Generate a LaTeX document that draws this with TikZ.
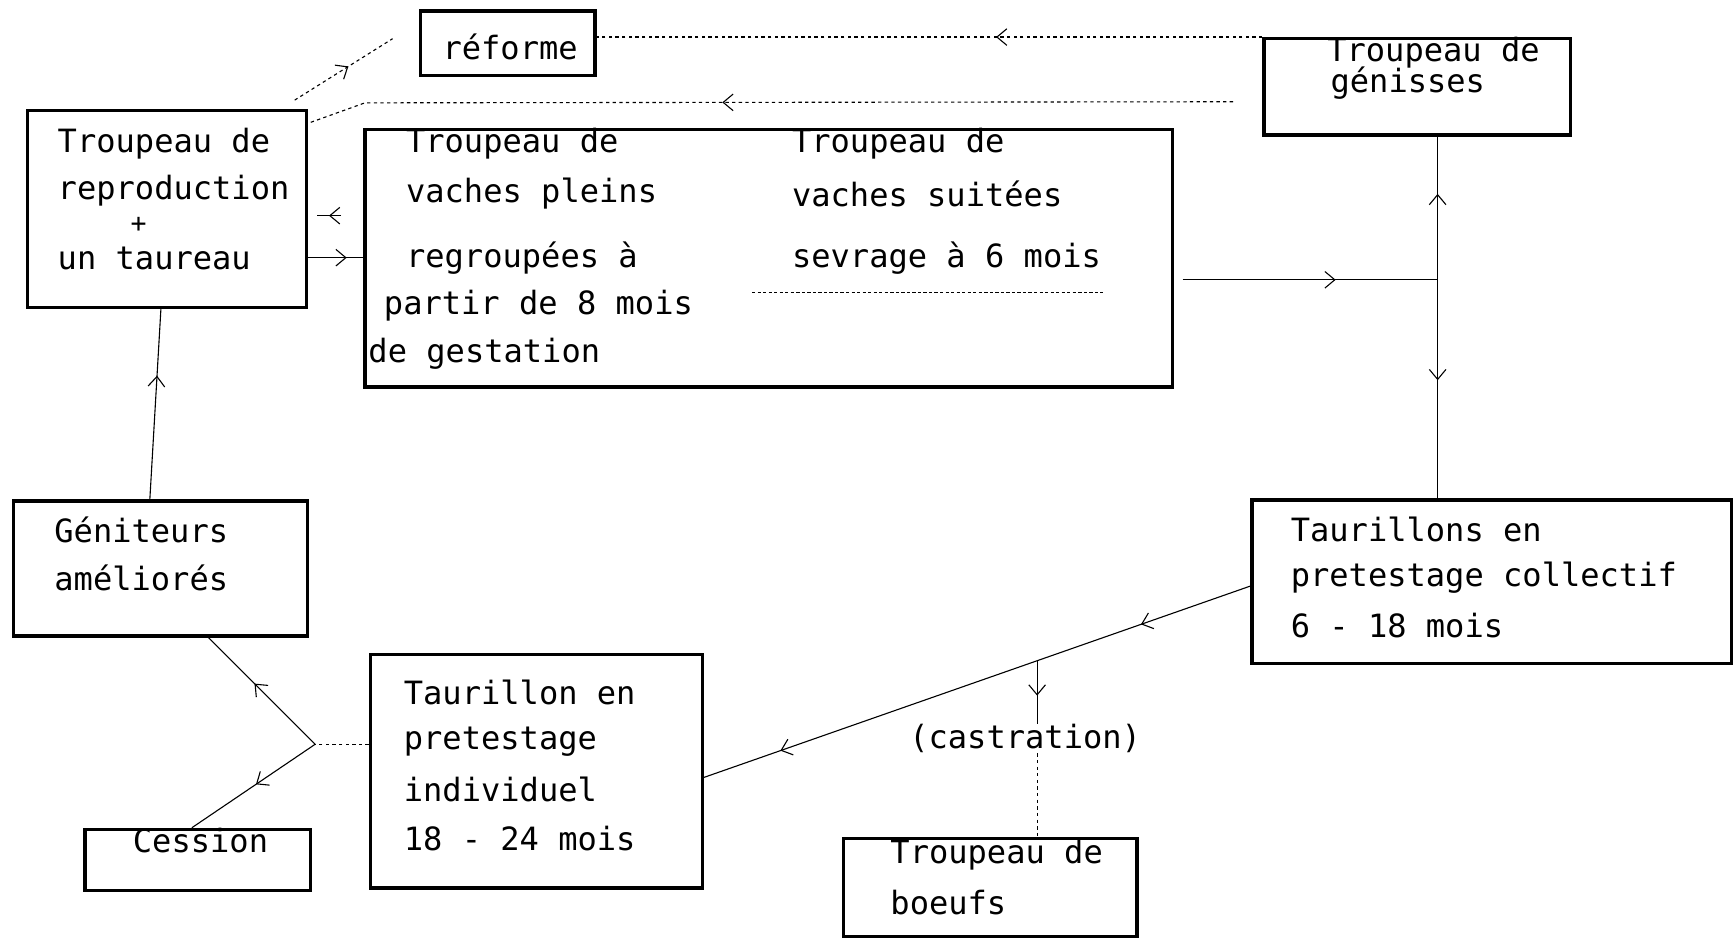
\documentclass[tikz,border=0pt]{standalone}
\usepackage{fontspec}
\newfontfamily\mono{DejaVu Sans Mono}
\usetikzlibrary{arrows.meta,calc,fit,decorations.markings}

\begin{document}
\begin{tikzpicture}[x=1pt, y=-1pt,
  box/.style={draw, line width=3pt, inner sep=0pt},
  link/.style={line width=1pt},
  mid/.style={postaction={decorate, decoration={markings,
    mark=at position #1 with {\arrow{Straight Barb[length=9pt,width=15pt]}}}}},
  txt/.style={anchor=west, inner sep=0pt,
    font=\mono\fontsize{29}{34}\selectfont}]

\useasboundingbox (0,0) rectangle (1568,849);

% Boxes
\node[box, fit={(380,10) (538,68)}]     (reforme) {};
\node[box, fit={(1143,35) (1420,122)}]  (genisses) {};
\node[box, fit={(25,100) (277,278)}]    (repro) {};
\node[box, fit={(330,117) (1060,350)}]  (vaches) {};
\node[box, fit={(12,453) (278,575)}]    (geniteurs) {};
\node[box, fit={(1132,452) (1566,600)}] (collectif) {};
\node[box, fit={(335,592) (635,803)}]   (individuel) {};
\node[box, fit={(77,750) (281,805)}]    (cession) {};
\node[box, fit={(763,758) (1028,847)}]  (boeufs) {};

% Texts
\node[txt] (reforme-1) at (400,42) {réforme};
\node[txt] (genisses-1) at (1200,48) {Troupeau de};
\node[txt] (genisses-2) at (1203,75) {génisses};
\node[txt] (repro-1) at (52,130) {Troupeau de};
\node[txt] (repro-2) at (52,172) {reproduction};
\node[txt, font=\mono\fontsize{24}{28}\selectfont] (repro-3) at (118,203) {+};
\node[txt] (repro-4) at (52,234) {un taureau};
\node[txt] (vaches-1) at (367,130) {Troupeau de};
\node[txt] (vaches-2) at (367,175) {vaches pleins};
\node[txt] (vaches-3) at (367,233) {regroupées à};
\node[txt] (vaches-4) at (347,276) {partir de 8 mois};
\node[txt] (vaches-5) at (333,320) {de gestation};
\node[txt] (vaches-6) at (716,130) {Troupeau de};
\node[txt] (vaches-7) at (716,175) {vaches suitées};
\node[txt] (vaches-8) at (716,233) {sevrage à 6 mois};
\node[txt] (geniteurs-1) at (49,479) {Géniteurs};
\node[txt] (geniteurs-2) at (49,523) {améliorés};
\node[txt] (collectif-1) at (1167,479) {Taurillons en};
\node[txt] (collectif-2) at (1167,522) {pretestage collectif};
\node[txt] (collectif-3) at (1167,566) {6 - 18 mois};
\node[txt] (individuel-1) at (365,626) {Taurillon en};
\node[txt] (individuel-2) at (365,671) {pretestage};
\node[txt] (individuel-3) at (365,714) {individuel};
\node[txt] (individuel-4) at (365,758) {18 - 24 mois};
\node[txt] (cession-1) at (120,760) {Cession};
\node[txt] (boeufs-1) at (805,773) {Troupeau de};
\node[txt] (boeufs-2) at (805,816) {boeufs};
\node[txt, anchor=center] (castr) at (927,668) {(castration)};

% Junctions and free ends
\coordinate (r1) at (355,35);
\coordinate (g1) at (1115,92);
\coordinate (g2) at (330,93);
\coordinate (j1) at (1300,253);
\coordinate (s1) at (285,673);

% separator under the right column
\draw[line width=0.8pt, densely dashed] (680,264) -- (997,264);

% Connectors
\draw[link, dashed, mid=0.55] ($(repro.north east)+(-12,-8)$) -- (r1);
\draw[link, dashed, mid=0.4] (genisses.north west) -- (reforme.east |- genisses.north west);
\draw[link, dashed, mid=0.55] (g1) -- (g2) -- ($(repro.north east)+(0,13)$);
\draw[link, mid=0.5] ($(vaches.west |- 0,195)+(-20,0)$) -- ($(repro.east |- 0,195)+(8,0)$);
\draw[link, mid=0.7] (repro.east |- 0,233) -- (vaches.west |- 0,233);
\draw[link, mid=0.6] ($(vaches.east |- j1)+(8,0)$) -- (j1);
\draw[link, mid=0.6] (j1) -- (genisses.south -| j1);
\draw[link, mid=0.46] (j1) -- (collectif.north -| j1);

\draw[link, mid=0.2, mid=0.86] (collectif.west |- 0,530) -- (individuel.east |- 0,703);
\coordinate (c1) at ($(collectif.west |- 0,530)!0.39!(individuel.east |- 0,703)$);
\draw[link, mid=0.55] (c1) -- (castr.north -| c1);
\draw[link, dashed] (castr.south -| c1) -- (boeufs.north -| c1);

\draw[link, dashed] (individuel.west |- s1) -- (s1);
\draw[link, mid=0.57] (s1) -- ($(geniteurs.south west)+(178,0)$);
\draw[link, mid=0.48] (s1) -- ($(cession.north west)+(98,0)$);
\draw[link, mid=0.65] ($(geniteurs.north west)+(125,0)$) -- ($(repro.south west)+(122,0)$);

\end{tikzpicture}
\end{document}
